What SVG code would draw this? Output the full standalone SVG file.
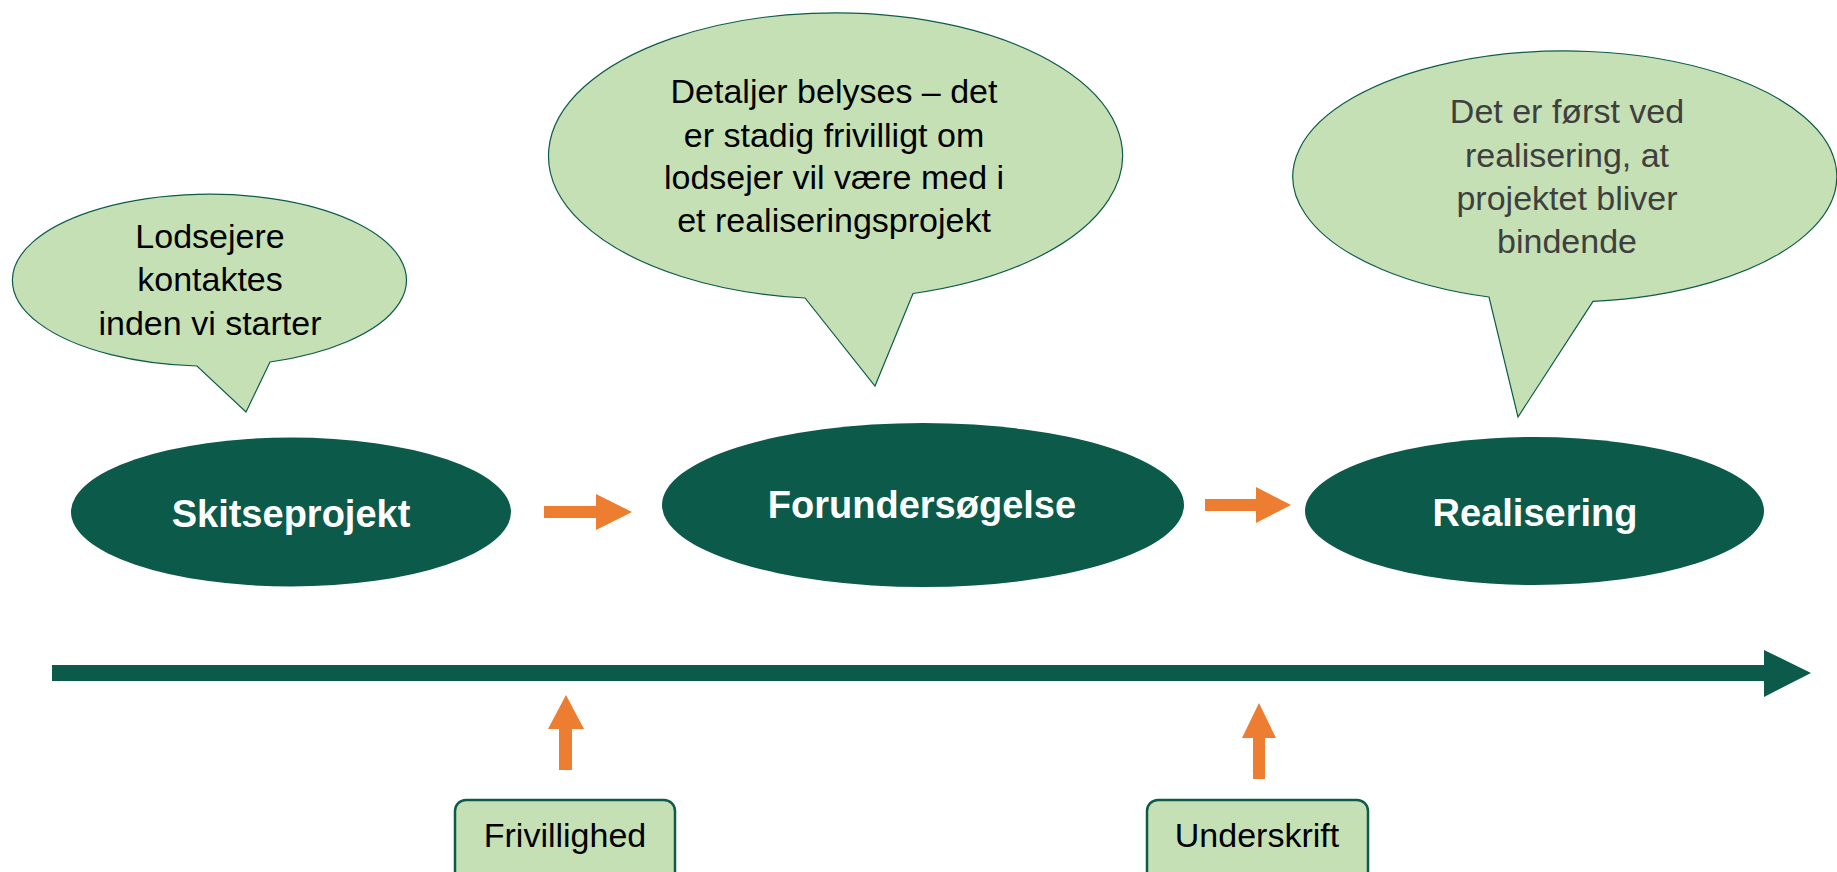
<svg xmlns="http://www.w3.org/2000/svg" width="1837" height="872" viewBox="0 0 1837 872">
  <style>
    .bubble { fill: #C5E0B4; stroke: #0D5C4A; stroke-width: 1.2; }
    .btext { font-family: "Liberation Sans", Arial, sans-serif; font-size: 34px; fill: #000000; text-anchor: middle; }
    .btext.gray { fill: #3F3F3F; }
    .phase { fill: #0C5A4A; }
    .ptext { font-family: "Liberation Sans", Arial, sans-serif; font-size: 38px; font-weight: bold; fill: #FFFFFF; text-anchor: middle; }
    .box { fill: #C5E0B4; stroke: #0D5C4A; stroke-width: 2.5; }
    .boxtext { font-family: "Liberation Sans", Arial, sans-serif; font-size: 34px; fill: #000000; text-anchor: middle; }
    .orange { fill: #ED7D31; }
    .axis { fill: #0C5A4A; }
  </style>
  <rect x="0" y="0" width="1837" height="872" fill="#FFFFFF"/>

  <g id="bubble-lodsejere">
    <path class="bubble" d="M197,366 A197,86 0 1 1 270,362 L246,412 Z"/>
    <text class="btext" x="210" y="248">Lodsejere</text>
    <text class="btext" x="210" y="291">kontaktes</text>
    <text class="btext" x="210" y="335">inden vi starter</text>
  </g>

  <g id="bubble-detaljer">
    <path class="bubble" d="M805,298 A287,143 0 1 1 913,293.5 L875,386 Z"/>
    <text class="btext" x="834" y="103">Detaljer belyses – det</text>
    <text class="btext" x="834" y="147">er stadig frivilligt om</text>
    <text class="btext" x="834" y="189">lodsejer vil være med i</text>
    <text class="btext" x="834" y="232">et realiseringsprojekt</text>
  </g>

  <g id="bubble-bindende">
    <path class="bubble" d="M1489,297 A272,125.5 0 1 1 1593,301.3 L1518,417 Z"/>
    <text class="btext gray" x="1567" y="123">Det er først ved</text>
    <text class="btext gray" x="1567" y="167">realisering, at</text>
    <text class="btext gray" x="1567" y="210">projektet bliver</text>
    <text class="btext gray" x="1567" y="253">bindende</text>
  </g>

  <g id="node-skitseprojekt">
    <ellipse class="phase" cx="291" cy="512" rx="220" ry="74.5"/>
    <text class="ptext" x="291" y="527">Skitseprojekt</text>
  </g>

  <g id="node-forundersoegelse">
    <ellipse class="phase" cx="923" cy="505" rx="261" ry="82"/>
    <text class="ptext" x="922" y="518">Forundersøgelse</text>
  </g>

  <g id="node-realisering">
    <ellipse class="phase" cx="1534.5" cy="511" rx="229.5" ry="74"/>
    <text class="ptext" x="1535" y="526">Realisering</text>
  </g>

  <g id="timeline">
    <polygon class="axis" points="52,665 1764,665 1764,650 1811,673 1764,697 1764,681 52,681"/>
  </g>

  <g id="node-frivillighed">
    <rect class="box" x="455" y="800" width="220" height="84" rx="11" ry="11"/>
    <text class="boxtext" x="565" y="847">Frivillighed</text>
  </g>

  <g id="node-underskrift">
    <rect class="box" x="1147" y="800" width="221" height="84" rx="11" ry="11"/>
    <text class="boxtext" x="1257" y="847">Underskrift</text>
  </g>

  <g id="connectors">
    <polygon class="orange" points="544,506 596,506 596,494 632,512 596,530 596,518 544,518"/>
    <polygon class="orange" points="1205,499 1256,499 1256,487 1291,505 1256,523 1256,511 1205,511"/>
    <polygon class="orange" points="559,770 559,729 548,729 566,695 584,729 572,729 572,770"/>
    <polygon class="orange" points="1253,779 1253,738 1242,738 1259,703 1276,738 1265,738 1265,779"/>
  </g>
</svg>
